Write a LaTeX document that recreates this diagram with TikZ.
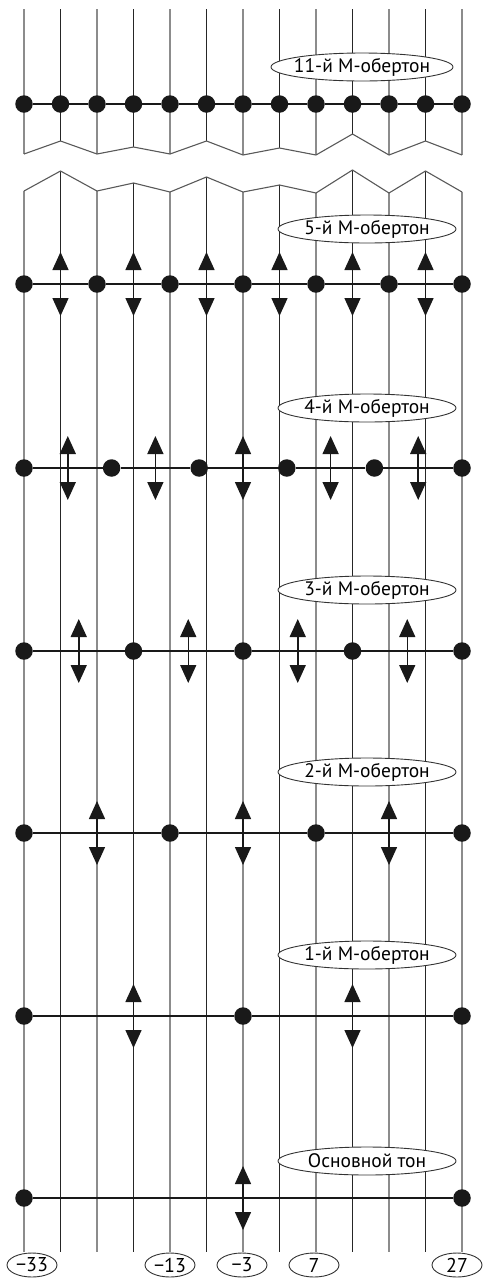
\documentclass[tikz,border=0pt]{standalone}
\usepackage{fontspec}
\setmainfont{PT Sans}
\usetikzlibrary{arrows.meta,positioning,shapes.geometric}

\begin{document}
\begin{tikzpicture}[x=1pt,y=-1pt,
  stringLine/.style={line width=1.1pt},
  evenString/.style={stringLine,draw=black!45},
  oddString/.style={stringLine,draw=black!85},
  breakLine/.style={line width=1.1pt,draw=black!65},
  levelLine/.style={line width=2.4pt,draw=black!90},
  dotNode/.style={circle,fill=black!90,inner sep=0pt,minimum size=17.5pt},
  detune/.style={{Triangle[length=18pt,width=16pt]}-{Triangle[length=18pt,width=16pt]},
    line width=1.5pt,draw=black!90},
  overtoneTag/.style={ellipse,draw=black!80,fill=white,line width=0.9pt,
    inner xsep=-30pt,inner ysep=-6pt,minimum height=28pt,minimum width=178pt,
    font=\fontsize{19.5}{19.5}\selectfont},
  centTag/.style={ellipse,draw=black!80,fill=white,line width=0.9pt,
    inner xsep=-12pt,inner ysep=-6pt,minimum height=24pt,minimum width=50pt,
    font=\fontsize{20}{20}\selectfont}
]
\useasboundingbox (0,0) rectangle (483,1278);

% strings, broken by the zigzag
\foreach \i/\ya/\yb in {0/154/191,1/141/171,2/154/191,3/147/183,4/154/192,5/141/177,
    6/155/192,7/148/185,8/155/193,9/134/170,10/155/193,11/141/171,12/155/192}{
  \pgfmathsetmacro\xx{24+36.5*\i}
  \coordinate (top\i) at (\xx,9);
  \coordinate (za\i) at (\xx,\ya);
  \coordinate (zb\i) at (\xx,\yb);
  \coordinate (bot\i) at (\xx,1252);
}
\foreach \i in {0,2,...,12}
  \draw[evenString] (top\i) -- (za\i) (zb\i) -- (bot\i);
\foreach \i in {1,3,...,11}
  \draw[oddString] (top\i) -- (za\i) (zb\i) -- (bot\i);
\draw[breakLine] (za0) \foreach \i in {1,...,12}{ -- (za\i)};
\draw[breakLine] (zb0) \foreach \i in {1,...,12}{ -- (zb\i)};

% 11th overtone
\foreach \k in {0,...,12}
  \node[dotNode] (p11-\k) at (24+36.5*\k,104) {};
\foreach \k [evaluate=\k as \kk using int(\k+1)] in {0,...,11}
  \draw[levelLine,line width=2.8pt] (p11-\k) -- (p11-\kk);

% lower overtones and the fundamental
\foreach \lv/\y/\seg in {0/1198/1,1/1016/2,2/833/3,3/651/4,4/468/5,5/284/6}{
  \foreach \k in {0,...,\seg}
    \node[dotNode] (p\lv-\k) at (24+438*\k/\seg,\y) {};
  \foreach \k in {1,...,\seg}{
    \pgfmathsetmacro\xm{24+438*(\k-0.5)/\seg}
    \coordinate (u\lv-\k) at (\xm,\y-32);
    \coordinate (d\lv-\k) at (\xm,\y+32);
    \pgfmathtruncatemacro\km{\k-1}
    \draw[levelLine] (p\lv-\km) -- (p\lv-\k);
    \draw[detune] (u\lv-\k) -- (d\lv-\k);
  }
}

% labels
\node[overtoneTag,minimum width=182pt] (t11) at (362,67) {11-й М-обертон};
\node[overtoneTag] (t5) at (367,229) {5-й М-обертон};
\node[overtoneTag] (t4) at (367,408) {4-й М-обертон};
\node[overtoneTag] (t3) at (367,590) {3-й М-обертон};
\node[overtoneTag] (t2) at (367,772) {2-й М-обертон};
\node[overtoneTag] (t1) at (367,955) {1-й М-обертон};
\node[overtoneTag] (t0) at (367,1161) {Основной тон};

\node[centTag] (c0) at (32,1265) {−33};
\node[centTag] (c4) at (170,1265) {−13};
\node[centTag] (c6) at (242,1265) {−3};
\node[centTag] (c8) at (314,1265) {7};
\node[centTag] (c12) at (457,1265) {27};
\end{tikzpicture}
\end{document}
